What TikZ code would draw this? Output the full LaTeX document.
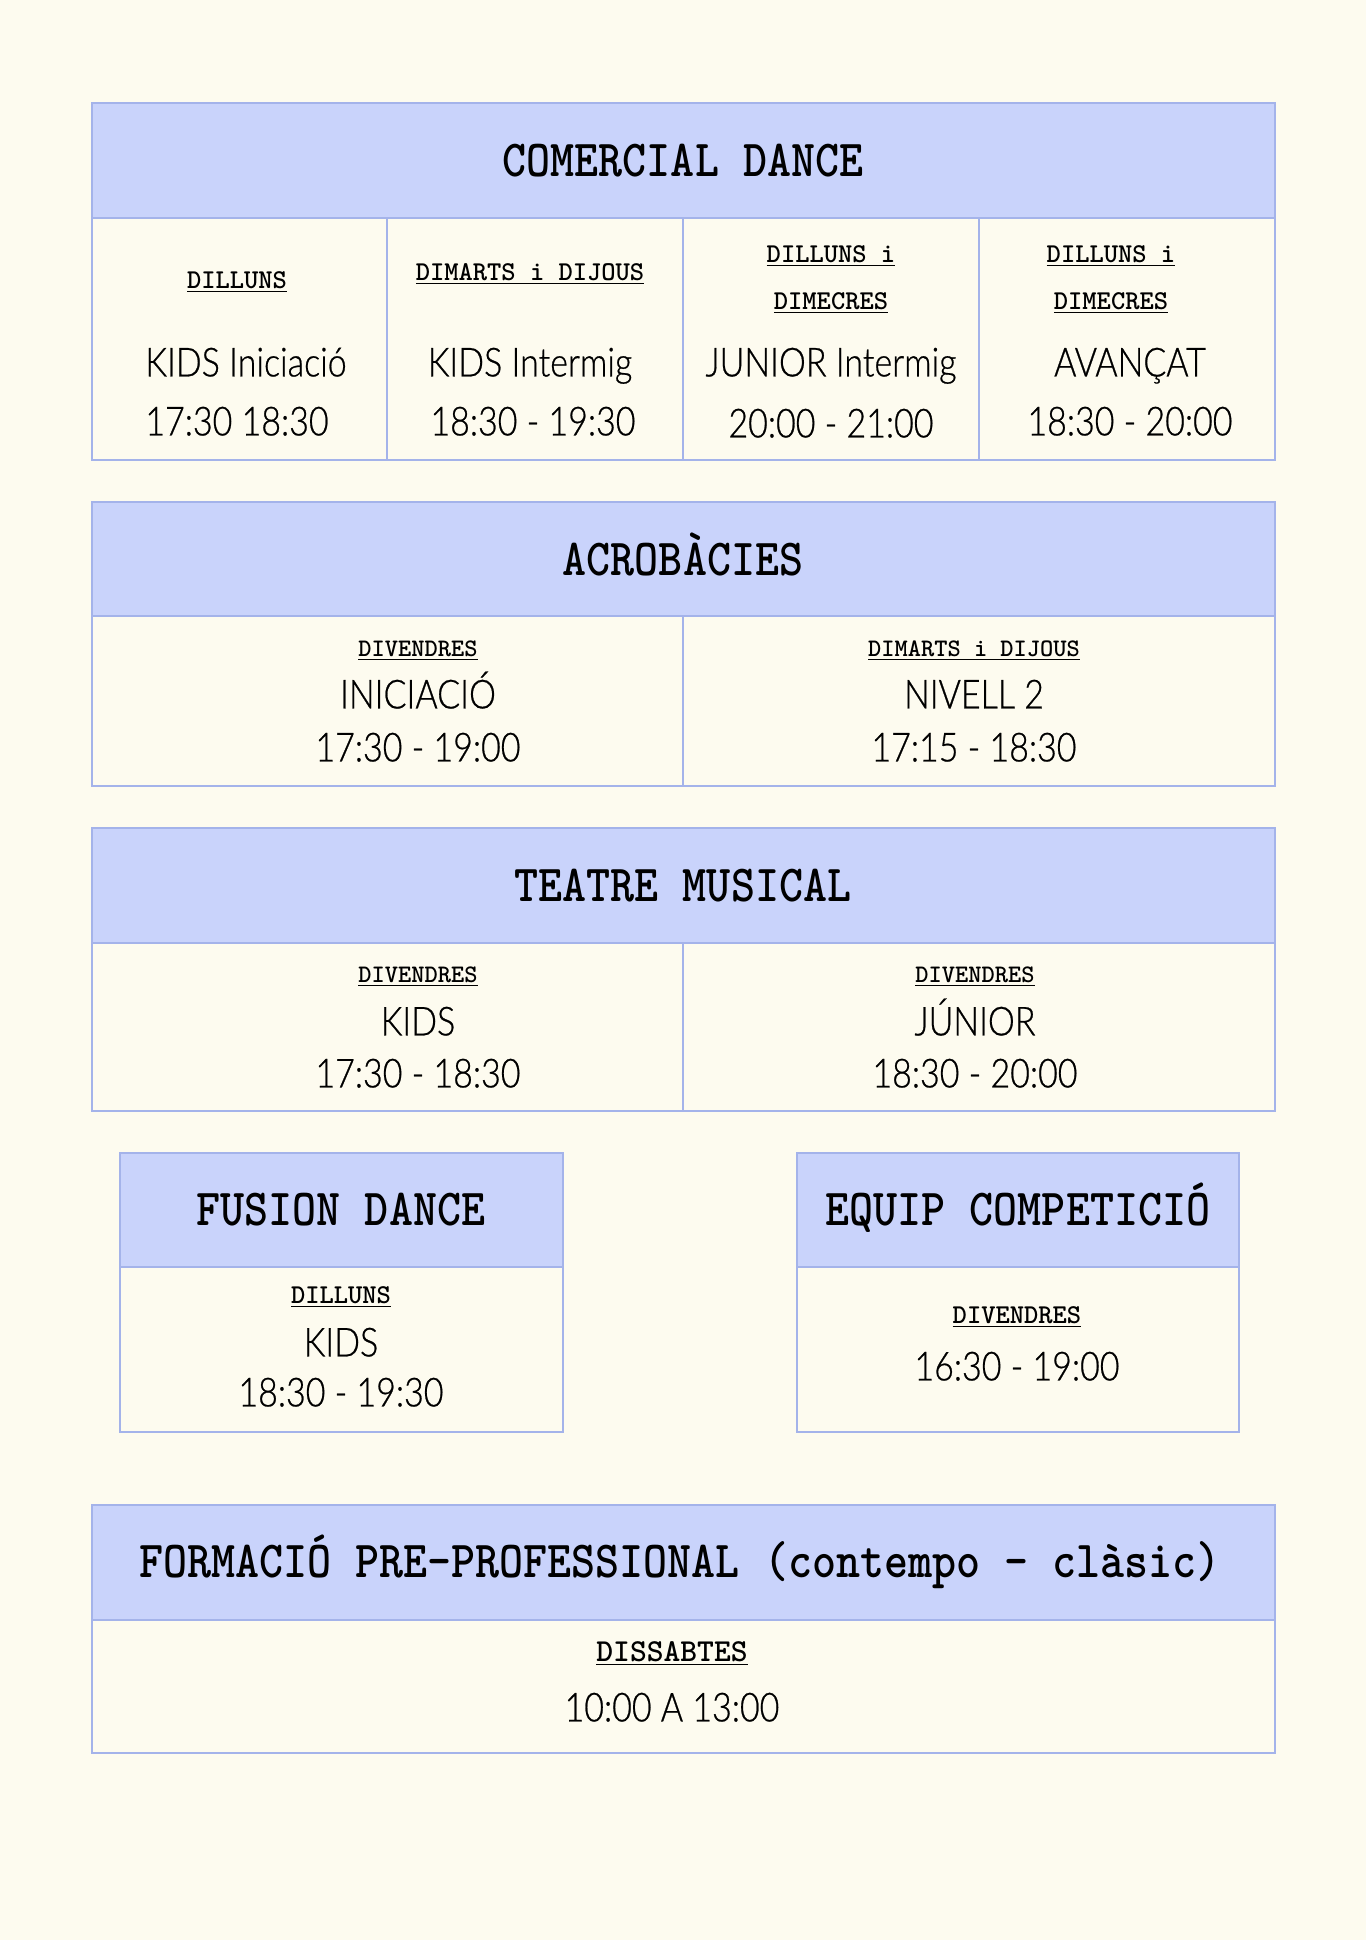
\documentclass[tikz,border=0pt]{standalone}
\usepackage{fontspec}
\setmainfont{Lato Light}[FakeStretch=0.85,FakeBold=0.6]
\newfontfamily\headfont{lmmonolt10-bold}[Extension=.otf,FakeStretch=0.88]
\newfontfamily\dayfont{lmmonolt10-bold}[Extension=.otf]
\definecolor{bgcream}{HTML}{FDFBEF}
\definecolor{hdrblue}{HTML}{C9D3FB}
\definecolor{lineblue}{HTML}{A4B3EA}
\tikzset{
  frame/.style={draw=lineblue, line width=1.4pt},
  hdr/.style={frame, fill=hdrblue},
  title/.style={font=\headfont\fontsize{26}{28}\selectfont, text height=16pt, text depth=0pt},
  day/.style={font=\dayfont\fontsize{#1}{#1}\selectfont, text height=8.5pt, text depth=0pt},
  day/.default=13.6,
  info/.style={font=\fontsize{20}{24}\selectfont, text height=14.4pt, text depth=0pt},
}
\newcommand{\dayul}[1]{\underline{#1}}
\begin{document}
\begin{tikzpicture}[x=0.5pt,y=-0.5pt]
    \fill[bgcream] (0,0) rectangle (1366,1940);
    \useasboundingbox (0,0) rectangle (1366,1940);
    % comercial dance
    \draw[hdr] (92,103) rectangle (1275,218);
    \draw[frame] (92,218) rectangle (1275,460);
    \foreach \x in {387,683,979} \draw[frame] (\x,218) -- (\x,460);
    \node[title] (comercial) at (683,160) {COMERCIAL DANCE};
    \node[day] (cdA) at (237,280) {\dayul{DILLUNS}};
    \node[info] (cnA) at (246,362) {KIDS Iniciació};
    \node[info] (ctA) at (237,421) {17:30 18:30};
    \node[day] (cdB) at (530,272) {\dayul{DIMARTS i DIJOUS}};
    \node[info] (cnB) at (530,362) {KIDS Intermig};
    \node[info] (ctB) at (533,421) {18:30 - 19:30};
    \node[day] (cdC) at (831,254) {\dayul{DILLUNS i}};
    \node[day] (cdC2) at (831,301) {\dayul{DIMECRES}};
    \node[info] (cnC) at (831,362) {JUNIOR Intermig};
    \node[info] (ctC) at (831,423) {20:00 - 21:00};
    \node[day] (cdD) at (1111,254) {\dayul{DILLUNS i}};
    \node[day] (cdD2) at (1111,301) {\dayul{DIMECRES}};
    \node[info] (cnD) at (1130,362) {AVANÇAT};
    \node[info] (ctD) at (1130,421) {18:30 - 20:00};
    % acrobacies
    \draw[hdr] (92,502) rectangle (1275,616);
    \draw[frame] (92,616) rectangle (1275,786);
    \draw[frame] (683,616) -- (683,786);
    \node[title] (acro) at (683,559) {ACROBÀCIES};
    \node[day=12.6] (adA) at (418,648) {\dayul{DIVENDRES}};
    \node[info] (anA) at (418,694) {INICIACIÓ};
    \node[info] (atA) at (418,747) {17:30 - 19:00};
    \node[day=12.6] (adB) at (974,648) {\dayul{DIMARTS i DIJOUS}};
    \node[info] (anB) at (974,694) {NIVELL 2};
    \node[info] (atB) at (974,747) {17:15 - 18:30};
    % teatre musical
    \draw[hdr] (92,828) rectangle (1275,943);
    \draw[frame] (92,943) rectangle (1275,1111);
    \draw[frame] (683,943) -- (683,1111);
    \node[title] (teatre) at (683,885) {TEATRE MUSICAL};
    \node[day=12.6] (tdA) at (418,974) {\dayul{DIVENDRES}};
    \node[info] (tnA) at (418,1021) {KIDS};
    \node[info] (ttA) at (418,1073) {17:30 - 18:30};
    \node[day=12.6] (tdB) at (975,974) {\dayul{DIVENDRES}};
    \node[info] (tnB) at (975,1021) {JÚNIOR};
    \node[info] (ttB) at (975,1073) {18:30 - 20:00};
    % fusion dance
    \draw[hdr] (120,1153) rectangle (563,1267);
    \draw[frame] (120,1267) rectangle (563,1432);
    \node[title] (fusion) at (341,1209) {FUSION DANCE};
    \node[day] (fd) at (341,1295) {\dayul{DILLUNS}};
    \node[info] (fn) at (341,1342) {KIDS};
    \node[info] (ft) at (341,1392) {18:30 - 19:30};
    % equip competicio
    \draw[hdr] (797,1153) rectangle (1239,1267);
    \draw[frame] (797,1267) rectangle (1239,1432);
    \node[title] (equip) at (1018,1209) {EQUIP COMPETICIÓ};
    \node[day] (ed) at (1017,1315) {\dayul{DIVENDRES}};
    \node[info] (et) at (1017,1366) {16:30 - 19:00};
    % formacio
    \draw[hdr] (92,1505) rectangle (1275,1620);
    \draw[frame] (92,1620) rectangle (1275,1753);
    \node[title] (formacio) at (680,1561) {FORMACIÓ PRE-PROFESSIONAL (contempo - clàsic)};
    \node[day=16] (pd) at (672,1653) {\dayul{DISSABTES}};
    \node[info] (pt) at (672,1707) {10:00 A 13:00};
\end{tikzpicture}
\end{document}
